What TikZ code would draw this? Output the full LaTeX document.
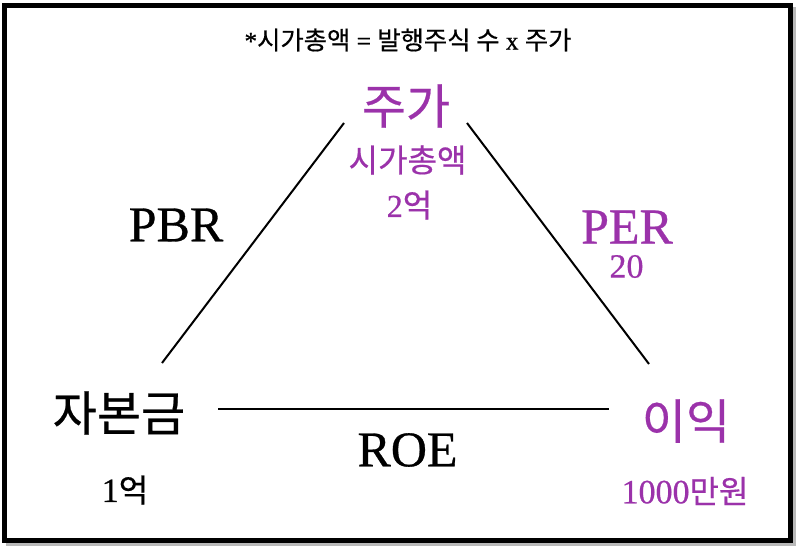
\documentclass[tikz,border=0pt]{standalone}
\usepackage{fontspec}
\setmainfont{Liberation Serif}[FakeBold=0.6]
\newfontfamily\cjk{Noto Sans CJK KR}[FakeBold=0.5]
\definecolor{vio}{RGB}{155,50,170}
\newcommand{\K}[1]{{\cjk #1}}
\begin{document}
\begin{tikzpicture}[x=0.75pt,y=-0.75pt,
  lbl/.style={inner sep=0pt,anchor=center},
  bigk/.style={lbl,font=\cjk\fontsize{36}{38}\selectfont},
  bigl/.style={lbl,font=\fontsize{37.5}{40}\selectfont},
  midk/.style={lbl,font=\fontsize{24}{26}\selectfont},
  smallk/.style={lbl,font=\fontsize{25.5}{27}\selectfont},
  edge/.style={line width=1.5pt,black},
  pur/.style={text=vio}]
\useasboundingbox (0,0) rectangle (800,553);
% frame
\draw[gray!55,line width=3pt] (7.5,8.5) rectangle (793.5,543.5);
\draw[black,line width=3.4pt,fill=white] (4.5,5.5) rectangle (790.5,540.5);
% title
\node[lbl,font=\fontsize{19}{21}\selectfont] (title) at (408,40) {*\K{시가총액} = \K{발행주식 수} x \K{주가}};
% vertices
\node[bigk,pur] (top) at (406,106) {주가};
\node[midk,pur] (mcap) at (407.5,160) {\K{시가총액}};
\node[midk,pur] (mcapv) at (409.5,205) {2\K{억}};
\node[bigk] (left) at (119,413) {자본금};
\node[smallk] (leftv) at (125,490) {1\K{\fontsize{24}{25}\selectfont 억}};
\node[bigk,pur] (right) at (686,421) {이익};
\node[smallk,pur] (rightv) at (685,491) {1000\K{\fontsize{24}{25}\selectfont 만원}};
% edge labels
\node[bigl] (pbr) at (176,225) {PBR};
\node[bigl,pur] (per) at (627,227) {PER};
\node[smallk,pur] (perv) at (626.5,266.5) {20};
\node[bigl] (roe) at (407.5,450) {ROE};
% connectors
\coordinate (tl) at (344,123);
\coordinate (bl) at (162,363);
\coordinate (tr) at (467,123);
\coordinate (br) at (649,364);
\coordinate (ll) at (218,409);
\coordinate (rr) at (609,409);
\draw[edge] (tl) -- (bl);
\draw[edge] (tr) -- (br);
\draw[edge] (ll) -- (rr);
\end{tikzpicture}
\end{document}
